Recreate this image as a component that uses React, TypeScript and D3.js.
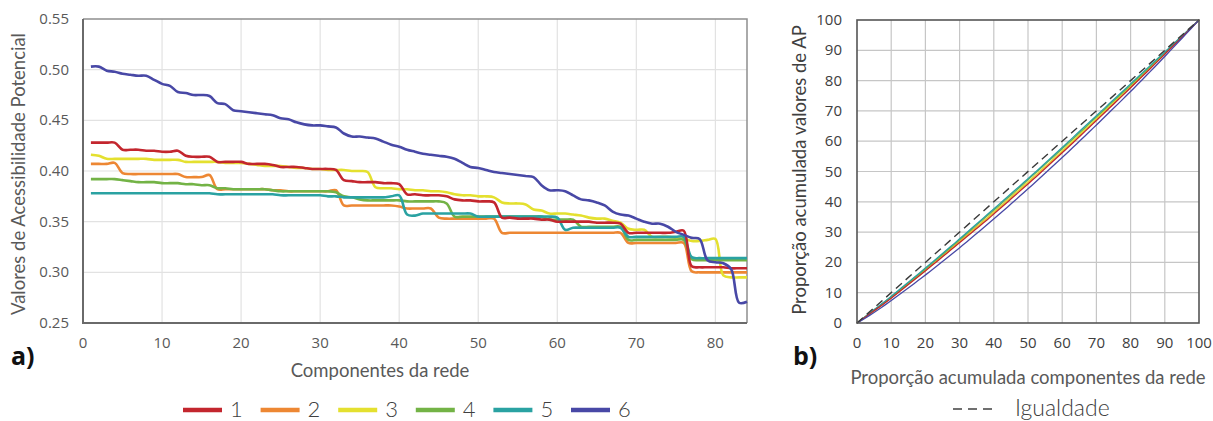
import React, { useEffect, useRef } from 'react';
import * as d3 from 'd3';

// AP values per network component (1..84), one array per scenario
const serie1 = [
  0.428, 0.428, 0.428, 0.428, 0.421, 0.421, 0.421, 0.420, 0.420, 0.419, 0.419, 0.420,
  0.415, 0.414, 0.414, 0.414, 0.409, 0.409, 0.409, 0.409, 0.407, 0.407, 0.407, 0.406,
  0.404, 0.404, 0.404, 0.403, 0.402, 0.402, 0.402, 0.401, 0.391, 0.390, 0.389, 0.389,
  0.389, 0.388, 0.388, 0.387, 0.377, 0.377, 0.376, 0.376, 0.376, 0.375, 0.372, 0.371,
  0.371, 0.370, 0.370, 0.369, 0.354, 0.354, 0.353, 0.353, 0.353, 0.352, 0.352, 0.350,
  0.350, 0.350, 0.350, 0.350, 0.349, 0.349, 0.349, 0.348, 0.339, 0.339, 0.339, 0.339,
  0.339, 0.339, 0.340, 0.341, 0.306, 0.305, 0.305, 0.305, 0.305, 0.304, 0.304, 0.304,
];
const serie2 = [
  0.407, 0.407, 0.407, 0.408, 0.398, 0.397, 0.397, 0.397, 0.397, 0.397, 0.397, 0.397,
  0.394, 0.394, 0.394, 0.396, 0.382, 0.382, 0.382, 0.382, 0.382, 0.382, 0.382, 0.381,
  0.381, 0.380, 0.380, 0.380, 0.380, 0.380, 0.380, 0.381, 0.366, 0.366, 0.366, 0.366,
  0.366, 0.366, 0.366, 0.365, 0.363, 0.363, 0.363, 0.363, 0.354, 0.353, 0.353, 0.353,
  0.353, 0.353, 0.353, 0.353, 0.339, 0.339, 0.339, 0.339, 0.339, 0.339, 0.339, 0.339,
  0.339, 0.339, 0.339, 0.339, 0.339, 0.339, 0.339, 0.339, 0.329, 0.329, 0.329, 0.329,
  0.329, 0.329, 0.329, 0.329, 0.301, 0.300, 0.300, 0.300, 0.300, 0.300, 0.300, 0.300,
];
const serie3 = [
  0.416, 0.415, 0.412, 0.412, 0.412, 0.412, 0.412, 0.412, 0.411, 0.411, 0.411, 0.411,
  0.409, 0.409, 0.409, 0.409, 0.409, 0.408, 0.408, 0.408, 0.407, 0.406, 0.405, 0.405,
  0.405, 0.404, 0.403, 0.403, 0.402, 0.402, 0.401, 0.401, 0.401, 0.400, 0.400, 0.399,
  0.384, 0.383, 0.383, 0.382, 0.382, 0.381, 0.381, 0.380, 0.380, 0.379, 0.377, 0.376,
  0.376, 0.375, 0.375, 0.374, 0.369, 0.368, 0.368, 0.367, 0.362, 0.361, 0.358, 0.358,
  0.358, 0.357, 0.356, 0.354, 0.353, 0.353, 0.351, 0.349, 0.343, 0.342, 0.342, 0.335,
  0.335, 0.335, 0.334, 0.333, 0.331, 0.331, 0.332, 0.333, 0.297, 0.295, 0.295, 0.295,
];
const serie4 = [
  0.392, 0.392, 0.392, 0.392, 0.391, 0.390, 0.389, 0.389, 0.389, 0.388, 0.388, 0.388,
  0.387, 0.387, 0.386, 0.386, 0.383, 0.383, 0.382, 0.382, 0.382, 0.382, 0.382, 0.381,
  0.380, 0.380, 0.380, 0.380, 0.380, 0.380, 0.380, 0.379, 0.375, 0.374, 0.372, 0.371,
  0.371, 0.371, 0.371, 0.371, 0.370, 0.370, 0.370, 0.370, 0.370, 0.368, 0.355, 0.355,
  0.355, 0.355, 0.355, 0.355, 0.355, 0.355, 0.355, 0.355, 0.355, 0.355, 0.352, 0.352,
  0.352, 0.352, 0.345, 0.345, 0.345, 0.345, 0.345, 0.345, 0.332, 0.332, 0.332, 0.332,
  0.332, 0.332, 0.332, 0.332, 0.313, 0.312, 0.312, 0.312, 0.312, 0.312, 0.312, 0.312,
];
const serie5 = [
  0.378, 0.378, 0.378, 0.378, 0.378, 0.378, 0.378, 0.378, 0.378, 0.378, 0.378, 0.378,
  0.378, 0.378, 0.378, 0.378, 0.377, 0.377, 0.377, 0.377, 0.377, 0.377, 0.377, 0.377,
  0.376, 0.376, 0.376, 0.376, 0.376, 0.376, 0.375, 0.375, 0.374, 0.374, 0.374, 0.374,
  0.374, 0.374, 0.375, 0.376, 0.357, 0.356, 0.358, 0.358, 0.358, 0.358, 0.358, 0.358,
  0.358, 0.355, 0.355, 0.355, 0.355, 0.355, 0.355, 0.355, 0.355, 0.355, 0.355, 0.354,
  0.342, 0.344, 0.344, 0.344, 0.344, 0.344, 0.344, 0.344, 0.335, 0.335, 0.335, 0.335,
  0.335, 0.335, 0.335, 0.335, 0.315, 0.314, 0.314, 0.314, 0.314, 0.314, 0.314, 0.314,
];
const serie6 = [
  0.503, 0.503, 0.499, 0.498, 0.496, 0.495, 0.494, 0.494, 0.490, 0.486, 0.484, 0.478,
  0.477, 0.475, 0.475, 0.474, 0.467, 0.466, 0.460, 0.459, 0.458, 0.457, 0.456, 0.455,
  0.452, 0.451, 0.448, 0.446, 0.445, 0.445, 0.444, 0.443, 0.437, 0.434, 0.434, 0.433,
  0.432, 0.429, 0.426, 0.424, 0.421, 0.419, 0.417, 0.416, 0.415, 0.414, 0.412, 0.408,
  0.404, 0.403, 0.401, 0.399, 0.398, 0.397, 0.396, 0.395, 0.394, 0.386, 0.381, 0.381,
  0.380, 0.376, 0.372, 0.371, 0.369, 0.366, 0.360, 0.357, 0.356, 0.353, 0.350, 0.348,
  0.348, 0.345, 0.340, 0.337, 0.334, 0.333, 0.312, 0.310, 0.309, 0.303, 0.270, 0.271,
];

const seriesNames = ['1', '2', '3', '4', '5', '6'];
const seriesValues = [serie1, serie2, serie3, serie4, serie5, serie6];
const seriesColors = ['#c3262e', '#ed8733', '#e4e02f', '#73b346', '#2aa2a2', '#4848a6'];
// which series gets painted first (back) to last (front)
const drawOrder = [1, 2, 3, 4, 0, 5];

const leftXTicks = [0, 10, 20, 30, 40, 50, 60, 70, 80];
const leftYTicks = [0.25, 0.3, 0.35, 0.4, 0.45, 0.5, 0.55];
const rightTicks = [0, 10, 20, 30, 40, 50, 60, 70, 80, 90, 100];

const tickFont = '"Open Sans", sans-serif';
const titleFont = 'Lato, sans-serif';

const App = () => {
  const ref = useRef<SVGSVGElement | null>(null);

  useEffect(() => {
    const svg = d3.select(ref.current);
    svg.selectAll('*').remove();

    // ---------- a) AP values per component ----------
    const x = d3.scaleLinear().domain([0, 84]).range([83, 747]);
    const y = d3.scaleLinear().domain([0.25, 0.55]).range([323, 19]);

    const a = svg.append('g');

    a.selectAll('.vgrid')
      .data(leftXTicks.slice(1))
      .enter()
      .append('line')
      .attr('x1', d => x(d))
      .attr('x2', d => x(d))
      .attr('y1', y(0.55))
      .attr('y2', y(0.25))
      .style('stroke', '#e2e2e2')
      .style('stroke-width', 1.2);

    a.selectAll('.hgrid')
      .data(leftYTicks.slice(1, -1))
      .enter()
      .append('line')
      .attr('x1', x(0))
      .attr('x2', x(84))
      .attr('y1', d => y(d))
      .attr('y2', d => y(d))
      .style('stroke', '#e2e2e2')
      .style('stroke-width', 1.2);

    // frame: light top/right, darker axes
    a.append('path')
      .attr('d', `M${x(0)},${y(0.55)}H${x(84)}V${y(0.25)}`)
      .attr('fill', 'none')
      .style('stroke', '#8f8f8f')
      .style('stroke-width', 1.5);
    a.append('path')
      .attr('d', `M${x(0)},${y(0.55)}V${y(0.25)}H${x(84)}`)
      .attr('fill', 'none')
      .style('stroke', '#6a6a6a')
      .style('stroke-width', 2);

    const line = d3.line<number>()
      .x((_, i) => x(i + 1))
      .y(d => y(d))
      .curve(d3.curveCatmullRom.alpha(0.5));

    drawOrder.forEach(k => {
      a.append('path')
        .datum(seriesValues[k])
        .attr('fill', 'none')
        .attr('stroke', seriesColors[k])
        .attr('stroke-width', 2.6)
        .attr('stroke-linejoin', 'round')
        .attr('d', line);
    });

    a.selectAll('.ytick')
      .data(leftYTicks)
      .enter()
      .append('text')
      .attr('x', 69)
      .attr('y', d => y(d) + 5)
      .attr('text-anchor', 'end')
      .style('font-family', tickFont)
      .style('font-size', '15px')
      .style('fill', '#595959')
      .text(d => d.toFixed(2));

    a.selectAll('.xtick')
      .data(leftXTicks)
      .enter()
      .append('text')
      .attr('x', d => x(d))
      .attr('y', 348)
      .attr('text-anchor', 'middle')
      .style('font-family', tickFont)
      .style('font-size', '15px')
      .style('fill', '#595959')
      .text(d => d);

    a.append('text')
      .attr('transform', 'translate(25,174) rotate(-90)')
      .attr('text-anchor', 'middle')
      .style('font-family', titleFont)
      .style('font-size', '18.5px')
      .style('fill', '#595959')
      .text('Valores de Acessibilidade Potencial');

    a.append('text')
      .attr('x', 380)
      .attr('y', 377)
      .attr('text-anchor', 'middle')
      .style('font-family', titleFont)
      .style('font-size', '18.5px')
      .style('fill', '#595959')
      .text('Componentes da rede');

    a.append('text')
      .attr('x', 11)
      .attr('y', 365)
      .style('font-family', tickFont)
      .style('font-size', '25px')
      .style('font-weight', 'bold')
      .style('fill', '#111')
      .text('a)');

    // legend
    const legend = a.selectAll('.legend')
      .data(seriesNames)
      .enter()
      .append('g')
      .attr('transform', (_, i) => `translate(${183 + i * 77.6},410)`);
    legend.append('line')
      .attr('x1', 0)
      .attr('x2', 39)
      .style('stroke', (_, i) => seriesColors[i])
      .style('stroke-width', 4.5);
    legend.append('text')
      .attr('x', 47)
      .attr('y', 7)
      .style('font-family', titleFont)
      .style('font-size', '22px')
      .style('font-weight', 300)
      .style('fill', '#404040')
      .text(d => d);

    // ---------- b) cumulative proportion (Lorenz) ----------
    const px = d3.scaleLinear().domain([0, 100]).range([857, 1199]);
    const py = d3.scaleLinear().domain([0, 100]).range([323, 20]);

    const b = svg.append('g');

    b.selectAll('.vgrid')
      .data(rightTicks.slice(1, -1))
      .enter()
      .append('line')
      .attr('x1', d => px(d))
      .attr('x2', d => px(d))
      .attr('y1', py(100))
      .attr('y2', py(0))
      .style('stroke', '#c6c6c6')
      .style('stroke-width', 1.2);
    b.selectAll('.hgrid')
      .data(rightTicks.slice(1, -1))
      .enter()
      .append('line')
      .attr('x1', px(0))
      .attr('x2', px(100))
      .attr('y1', d => py(d))
      .attr('y2', d => py(d))
      .style('stroke', '#c6c6c6')
      .style('stroke-width', 1.2);

    const lorenz = (values: number[]) => {
      const sorted = values.slice().sort(d3.ascending);
      const total = d3.sum(sorted);
      const cum = Array.from(d3.cumsum(sorted));
      return [[0, 0], ...cum.map((c, i) => [((i + 1) / sorted.length) * 100, (c / total) * 100])];
    };

    const curve = d3.line<number[]>()
      .x(d => px(d[0]))
      .y(d => py(d[1]));

    drawOrder.forEach(k => {
      b.append('path')
        .datum(lorenz(seriesValues[k]))
        .attr('fill', 'none')
        .attr('stroke', seriesColors[k])
        .attr('stroke-width', 1.3)
        .attr('d', curve);
    });

    b.append('line')
      .attr('x1', px(0))
      .attr('y1', py(0))
      .attr('x2', px(100))
      .attr('y2', py(100))
      .style('stroke', '#3a3a3a')
      .style('stroke-width', 1.4)
      .style('stroke-dasharray', '8,5');

    b.append('rect')
      .attr('x', px(0))
      .attr('y', py(100))
      .attr('width', px(100) - px(0))
      .attr('height', py(0) - py(100))
      .attr('fill', 'none')
      .style('stroke', '#555')
      .style('stroke-width', 1.6);

    b.selectAll('.ytick')
      .data(rightTicks)
      .enter()
      .append('text')
      .attr('x', 842)
      .attr('y', d => py(d) + 5)
      .attr('text-anchor', 'end')
      .style('font-family', tickFont)
      .style('font-size', '15px')
      .style('fill', '#404040')
      .text(d => d);

    b.selectAll('.xtick')
      .data(rightTicks)
      .enter()
      .append('text')
      .attr('x', d => px(d))
      .attr('y', 348)
      .attr('text-anchor', 'middle')
      .style('font-family', tickFont)
      .style('font-size', '15px')
      .style('fill', '#404040')
      .text(d => d);

    b.append('text')
      .attr('transform', 'translate(806,170) rotate(-90)')
      .attr('text-anchor', 'middle')
      .style('font-family', titleFont)
      .style('font-size', '18.5px')
      .style('fill', '#404040')
      .text('Proporção acumulada valores de AP');

    b.append('text')
      .attr('x', 1028)
      .attr('y', 384)
      .attr('text-anchor', 'middle')
      .style('font-family', titleFont)
      .style('font-size', '18.5px')
      .style('fill', '#595959')
      .text('Proporção acumulada componentes da rede');

    b.append('text')
      .attr('x', 793)
      .attr('y', 365)
      .style('font-family', tickFont)
      .style('font-size', '25px')
      .style('font-weight', 'bold')
      .style('fill', '#111')
      .text('b)');

    b.append('line')
      .attr('x1', 953)
      .attr('x2', 997)
      .attr('y1', 409)
      .attr('y2', 409)
      .style('stroke', '#404040')
      .style('stroke-width', 1.4)
      .style('stroke-dasharray', '9,6');
    b.append('text')
      .attr('x', 1015)
      .attr('y', 416)
      .style('font-family', titleFont)
      .style('font-size', '23px')
      .style('font-weight', 300)
      .style('fill', '#404040')
      .text('Igualdade');
  }, []);

  return (
    <svg
      ref={ref}
      width={1213}
      height={421}
      style={{ position: 'absolute', left: 0, top: 0, background: '#fff' }}
    />
  );
};

export default App;
